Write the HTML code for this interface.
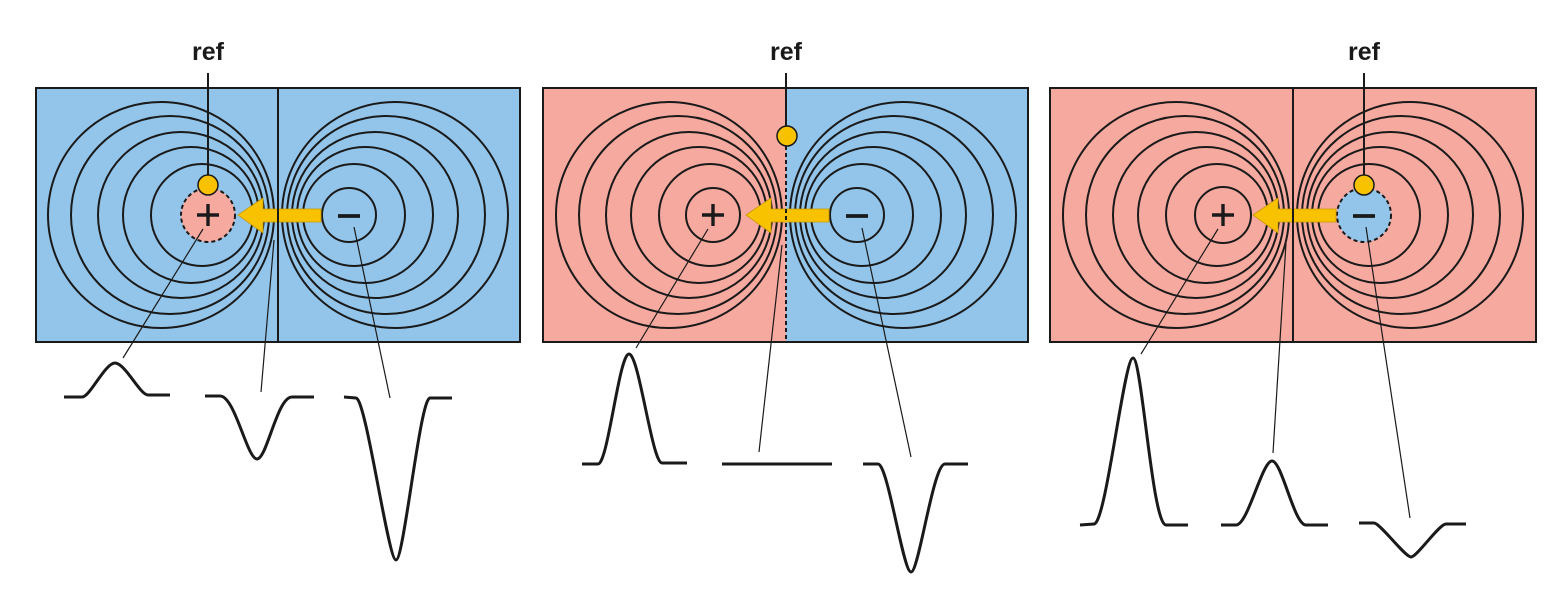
<!DOCTYPE html>
<html><head><meta charset="utf-8"><style>
html,body{margin:0;padding:0;background:#fff;}
svg{display:block}
</style></head><body>
<svg width="1562" height="590" viewBox="0 0 1562 590" xmlns="http://www.w3.org/2000/svg">
<defs>
<g id="fieldL" fill="none" stroke="#1a1a1a" stroke-width="2">
<circle cx="-117" cy="215" r="113"/><circle cx="-108" cy="215" r="99"/><circle cx="-97" cy="215" r="83"/>
<circle cx="-87" cy="215" r="68"/><circle cx="-76" cy="215" r="51"/>
</g>
<g id="fieldR" fill="none" stroke="#1a1a1a" stroke-width="2">
<circle cx="117" cy="215" r="113"/><circle cx="108" cy="215" r="99"/><circle cx="97" cy="215" r="83"/>
<circle cx="87" cy="215" r="68"/><circle cx="76" cy="215" r="51"/>
</g>
<g id="arrow" fill="#F8C200" stroke="#C99A00" stroke-width="0.8">
<path d="M-40,215 L-15,198 L-15,209 L43,209 L43,222 L-15,222 L-15,233 Z"/>
</g>
<g id="plus" stroke="#1a1a1a" stroke-width="3.4"><line x1="-11" y1="215" x2="11" y2="215"/><line x1="0" y1="204" x2="0" y2="226"/></g>
<g id="minus" stroke="#1a1a1a" stroke-width="3.8"><line x1="-11" y1="216" x2="11" y2="216"/></g>
</defs>

<g font-family="Liberation Sans, sans-serif" font-size="25" font-weight="bold" fill="#1a1a1a" text-anchor="middle">
<text x="208" y="60">ref</text>
<text x="786" y="60">ref</text>
<text x="1364" y="60">ref</text>
</g>

<!-- Panel 1 -->
<rect x="36" y="88" width="484" height="254" fill="#93C5EA"/>
<g transform="translate(278,0)">
<use href="#fieldL"/><use href="#fieldR"/>
<circle cx="71" cy="215" r="27" fill="none" stroke="#1a1a1a" stroke-width="2"/>
<circle cx="-70" cy="215" r="27" fill="#F6A99F" stroke="#1a1a1a" stroke-width="2" stroke-dasharray="4,3"/>
<g transform="translate(-70,0)"><use href="#plus"/></g>
<g transform="translate(71,0)"><use href="#minus"/></g>
<use href="#arrow"/>
</g>
<line x1="278" y1="88" x2="278" y2="342" stroke="#1a1a1a" stroke-width="2"/>
<rect x="36" y="88" width="484" height="254" fill="none" stroke="#1a1a1a" stroke-width="2"/>
<line x1="208" y1="73" x2="208" y2="176" stroke="#1a1a1a" stroke-width="2"/>
<circle cx="208" cy="185" r="10" fill="#F8C200" stroke="#1a1a1a" stroke-width="1.5"/>

<!-- Panel 2 -->
<rect x="543" y="88" width="243" height="254" fill="#F6A99F"/>
<rect x="786" y="88" width="242" height="254" fill="#93C5EA"/>
<g transform="translate(786,0)">
<use href="#fieldL"/><use href="#fieldR"/>
<circle cx="-73" cy="215" r="27" fill="none" stroke="#1a1a1a" stroke-width="2"/>
<circle cx="71" cy="215" r="27" fill="none" stroke="#1a1a1a" stroke-width="2"/>
<g transform="translate(-73,0)"><use href="#plus"/></g>
<g transform="translate(71,0)"><use href="#minus"/></g>
<use href="#arrow"/>
</g>
<line x1="786" y1="146" x2="786" y2="342" stroke="#1a1a1a" stroke-width="2" stroke-dasharray="4,3"/>
<rect x="543" y="88" width="485" height="254" fill="none" stroke="#1a1a1a" stroke-width="2"/>
<line x1="786" y1="73" x2="786" y2="126" stroke="#1a1a1a" stroke-width="2"/>
<circle cx="787" cy="136" r="10" fill="#F8C200" stroke="#1a1a1a" stroke-width="1.5"/>

<!-- Panel 3 -->
<rect x="1050" y="88" width="486" height="254" fill="#F6A99F"/>
<g transform="translate(1293,0)">
<use href="#fieldL"/><use href="#fieldR"/>
<circle cx="-70" cy="215" r="28" fill="none" stroke="#1a1a1a" stroke-width="2"/>
<circle cx="71" cy="215" r="27" fill="#93C5EA" stroke="#1a1a1a" stroke-width="2" stroke-dasharray="4,3"/>
<g transform="translate(-70,0)"><use href="#plus"/></g>
<g transform="translate(71,0)"><use href="#minus"/></g>
<use href="#arrow"/>
</g>
<line x1="1293" y1="88" x2="1293" y2="342" stroke="#1a1a1a" stroke-width="2"/>
<rect x="1050" y="88" width="486" height="254" fill="none" stroke="#1a1a1a" stroke-width="2"/>
<line x1="1364" y1="73" x2="1364" y2="176" stroke="#1a1a1a" stroke-width="2"/>
<circle cx="1364" cy="185" r="10" fill="#F8C200" stroke="#1a1a1a" stroke-width="1.5"/>

<!-- connectors -->
<g stroke="#1a1a1a" stroke-width="1.2" fill="none">
<line x1="203" y1="229" x2="123" y2="358"/>
<line x1="274" y1="240" x2="261" y2="392"/>
<line x1="354" y1="227" x2="390" y2="398"/>
<line x1="708" y1="229" x2="636" y2="348"/>
<line x1="782" y1="245" x2="759" y2="452"/>
<line x1="862" y1="228" x2="911" y2="457"/>
<line x1="1218" y1="229" x2="1141" y2="354"/>
<line x1="1286" y1="243" x2="1273" y2="453"/>
<line x1="1366" y1="227" x2="1410" y2="518"/>
</g>

<!-- waveforms -->
<g stroke="#1a1a1a" stroke-width="3" fill="none" stroke-linejoin="round" stroke-linecap="butt">
<path d="M64,397 L82,397 C90,397 105,363 115,363 C125,363 140,395 148,395 L170,395"/>
<path d="M205,396 L220,396 C235,396 247,459 257,459 C267,459 277,397 292,397 L314,397"/>
<path d="M344,397 L356,398 C366,398 388,560 396,560 C404,560 420,398 430,398 L452,398"/>

<path d="M582,464 L598,464 C608,464 619,354 629,354 C639,354 652,463 662,463 L687,463"/>
<path d="M722,464 L832,464"/>
<path d="M863,464 L878,464 C888,464 903,572 911,572 C919,572 933,464 945,464 L968,464"/>

<path d="M1080,525 L1094,524 C1106,524 1124,358 1133,358 C1142,358 1152,524 1166,525 L1188,525"/>
<path d="M1221,525 L1236,525 C1248,525 1262,461 1272,461 C1282,461 1294,525 1306,525 L1328,525"/>
<path d="M1359,523 L1374,523 C1380,523 1405,557 1411,557 C1417,557 1439,524 1446,524 L1466,524"/>
</g>
</svg>
</body></html>
